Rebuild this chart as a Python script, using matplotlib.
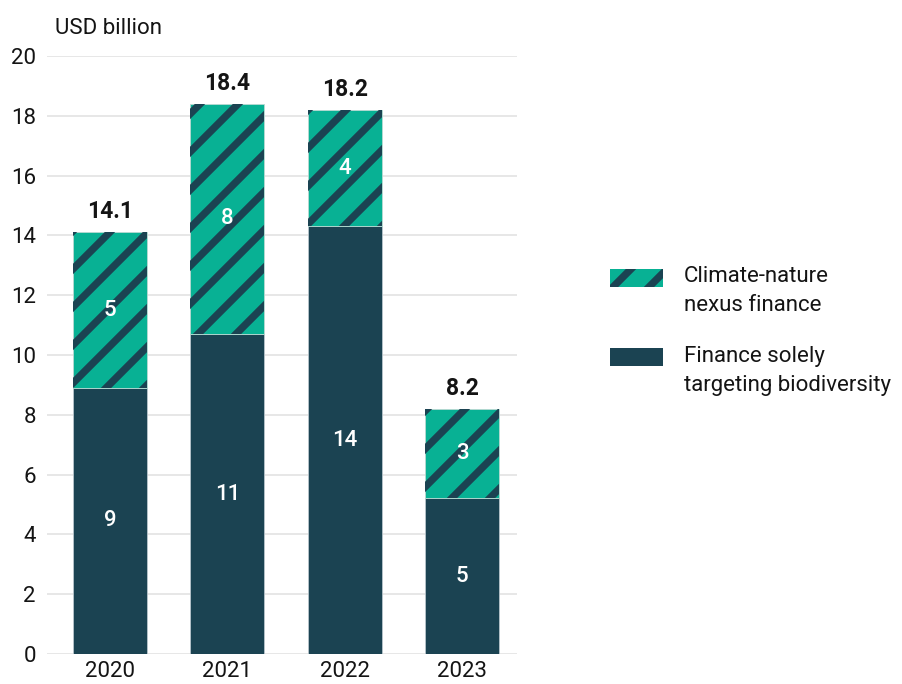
import matplotlib.pyplot as plt
import matplotlib.patches as mpatches
from matplotlib.lines import Line2D
from matplotlib.transforms import IdentityTransform

plt.rcParams['font.family'] = ['Roboto', 'DejaVu Sans']

# USD billion per year
years = ['2020', '2021', '2022', '2023']
solely_bio = [8.9, 10.7, 14.3, 5.2]
nexus = [5.2, 7.7, 3.9, 3.0]

TEAL = '#08b194'
DARK = '#1b4352'
TEXT = '#141414'
STRIPE_GAP = 38  # vertical distance between stripes, px


def add_stripes(target, patch, gap=STRIPE_GAP, lw=5.3):
    # diagonal dark stripes drawn in pixel space, clipped to the patch
    bb = patch.get_window_extent()
    x0, x1, y0, y1 = bb.x0 - 10, bb.x1 + 10, bb.y0, bb.y1
    c = (int((y0 - x1) // gap) - 1) * gap
    while c < y1 - x0 + gap:
        ln = Line2D([x0, x1], [x0 + c, x1 + c], transform=IdentityTransform(),
                    color=DARK, lw=lw, solid_capstyle='butt', zorder=3)
        target.add_artist(ln)
        ln.set_clip_path(patch)
        c += gap


fig = plt.figure(figsize=(9.03, 6.84), dpi=100)
ax = fig.add_axes([0.052, 0.0439, 0.5205, 0.8743])

x = range(len(years))
b1 = ax.bar(x, solely_bio, width=0.63, color=DARK, edgecolor='#b9c6cc', linewidth=0.6, zorder=2)
b2 = ax.bar(x, nexus, width=0.63, bottom=solely_bio, color=TEAL, edgecolor='#b9d9d2',
            linewidth=0.6, zorder=2)

ax.set_xlim(-0.537, 3.469)
ax.set_ylim(0, 20)
ax.set_yticks(range(0, 21, 2))
ax.set_xticks(list(x))
ax.set_xticklabels(years)
ax.grid(axis='y', color='#e3e3e3', lw=1.2, zorder=0)
ax.set_axisbelow(True)
for s in ax.spines.values():
    s.set_visible(False)
ax.tick_params(length=0, labelsize=16, colors=TEXT)
ax.tick_params(axis='y', pad=8)
ax.tick_params(axis='x', pad=5)

for rect in b2:
    add_stripes(ax, rect)

# segment and total labels
for i in x:
    ax.text(i, solely_bio[i] / 2, f'{round(solely_bio[i])}', ha='center', va='center',
            color='white', fontsize=16, fontweight='medium', zorder=5)
    ax.text(i, solely_bio[i] + nexus[i] / 2, f'{round(nexus[i])}', ha='center', va='center',
            color='white', fontsize=16, fontweight='medium', zorder=5)
    total = solely_bio[i] + nexus[i]
    ax.text(i, total + 0.3, f'{total:.1f}', ha='center', va='bottom', color=TEXT,
            fontsize=16.5, fontweight='bold', zorder=5)

fig.text(0.061, 0.958, 'USD billion', ha='left', va='center', fontsize=16, color=TEXT)

# legend
leg1 = mpatches.Rectangle((0.6755, 0.5804), 0.0587, 0.0263, transform=fig.transFigure,
                          facecolor=TEAL, edgecolor='none')
leg2 = mpatches.Rectangle((0.6755, 0.4649), 0.0587, 0.0263, transform=fig.transFigure,
                          facecolor=DARK, edgecolor='none')
fig.add_artist(leg1)
fig.add_artist(leg2)
add_stripes(fig, leg1, gap=36)
fig.text(0.7575, 0.5746, 'Climate-nature\nnexus finance', ha='left', va='center',
         fontsize=16, color=TEXT, linespacing=1.45)
fig.text(0.7575, 0.4576, 'Finance solely\ntargeting biodiversity', ha='left', va='center',
         fontsize=16, color=TEXT, linespacing=1.45)

fig.savefig('out.png', dpi=100)
